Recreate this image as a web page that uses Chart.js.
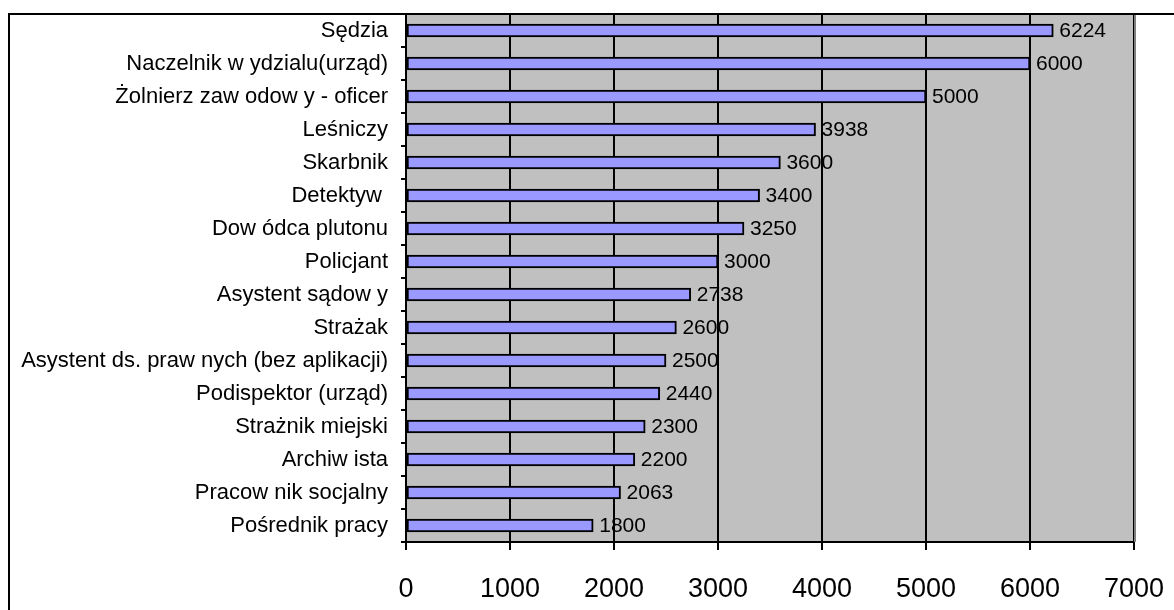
<!DOCTYPE html>
<html>
<head>
<meta charset="utf-8">
<script src="https://cdn.jsdelivr.net/npm/chart.js@4/dist/chart.umd.min.js"></script>
<style>
html,body{margin:0;padding:0;background:#fff;}
#wrap{width:1174px;height:610px;position:relative;}
</style>
</head>
<body>
<div id="wrap"><canvas id="c" width="1174" height="610"></canvas></div>
<script>
const categories = [
  "Sędzia",
  "Naczelnik w ydzialu(urząd)",
  "Żolnierz zaw odow y - oficer",
  "Leśniczy",
  "Skarbnik",
  "Detektyw ",
  "Dow ódca plutonu",
  "Policjant",
  "Asystent sądow y",
  "Strażak",
  "Asystent ds. praw nych (bez aplikacji)",
  "Podispektor (urząd)",
  "Strażnik miejski",
  "Archiw ista",
  "Pracow nik socjalny",
  "Pośrednik pracy"
];
const salaries = [6224, 6000, 5000, 3938, 3600, 3400, 3250, 3000, 2738, 2600, 2500, 2440, 2300, 2200, 2063, 1800];
const xTicks = [0, 1000, 2000, 3000, 4000, 5000, 6000, 7000];

const FONT = "'Liberation Sans', Arial, sans-serif";

const frame = {
  id: 'frame',
  beforeDraw(chart) {
    const ctx = chart.ctx, a = chart.chartArea;
    ctx.save();
    ctx.fillStyle = '#ffffff';
    ctx.fillRect(0, 0, chart.width, chart.height);
    ctx.fillStyle = '#C0C0C0';
    ctx.fillRect(a.left, a.top, a.right - a.left, a.bottom - a.top);
    ctx.restore();
  },
  afterDraw(chart) {
    const ctx = chart.ctx, a = chart.chartArea;
    ctx.save();
    ctx.strokeStyle = '#808080';
    ctx.lineWidth = 2;
    ctx.beginPath();
    ctx.moveTo(a.right + 1, a.top);
    ctx.lineTo(a.right + 1, a.bottom);
    ctx.stroke();
    ctx.strokeStyle = '#000000';
    ctx.lineWidth = 2;
    ctx.beginPath();
    ctx.moveTo(9, 700);
    ctx.lineTo(9, 14);
    ctx.lineTo(1200, 14);
    ctx.stroke();
    ctx.restore();
  }
};

const valueLabels = {
  id: 'valueLabels',
  afterDatasetsDraw(chart) {
    const ctx = chart.ctx;
    const meta = chart.getDatasetMeta(0);
    ctx.save();
    ctx.font = '21px ' + FONT;
    ctx.fillStyle = '#000';
    ctx.textAlign = 'left';
    ctx.textBaseline = 'middle';
    meta.data.forEach((bar, i) => {
      ctx.fillText(String(salaries[i]), bar.x + 6, bar.y + 1);
    });
    ctx.restore();
  }
};

new Chart(document.getElementById('c'), {
  type: 'bar',
  data: {
    labels: categories,
    datasets: [{
      data: salaries,
      backgroundColor: '#9999FF',
      borderColor: '#000000',
      borderWidth: 2,
      borderSkipped: false,
      barThickness: 13
    }]
  },
  options: {
    indexAxis: 'y',
    responsive: false,
    animation: false,
    events: [],
    layout: { padding: { top: 14, right: 40, left: 0, bottom: 0 } },
    plugins: { legend: { display: false }, tooltip: { enabled: false } },
    scales: {
      x: {
        min: 0, max: 7000,
        afterBuildTicks(scale) { scale.ticks = xTicks.map(v => ({ value: v })); },
        afterFit(scale) { scale.height = 68; scale.paddingLeft = 0; scale.paddingRight = 0; },
        grid: { color: '#000000', lineWidth: 2, tickLength: 8, drawOnChartArea: true },
        border: { color: '#000000', width: 2 },
        ticks: { color: '#000', font: { family: FONT, size: 27 }, padding: 23, maxRotation: 0,
                 callback: (v) => String(v) }
      },
      y: {
        afterFit(scale) { scale.width = 406; scale.paddingTop = 0; scale.paddingBottom = 0; },
        grid: { display: true, drawOnChartArea: false, color: '#000000', lineWidth: 2, tickLength: 5, offset: true },
        border: { color: '#000000', width: 2 },
        ticks: { color: '#000', font: { family: FONT, size: 22 }, padding: 13, autoSkip: false }
      }
    }
  },
  plugins: [frame, valueLabels]
});
</script>
</body>
</html>
